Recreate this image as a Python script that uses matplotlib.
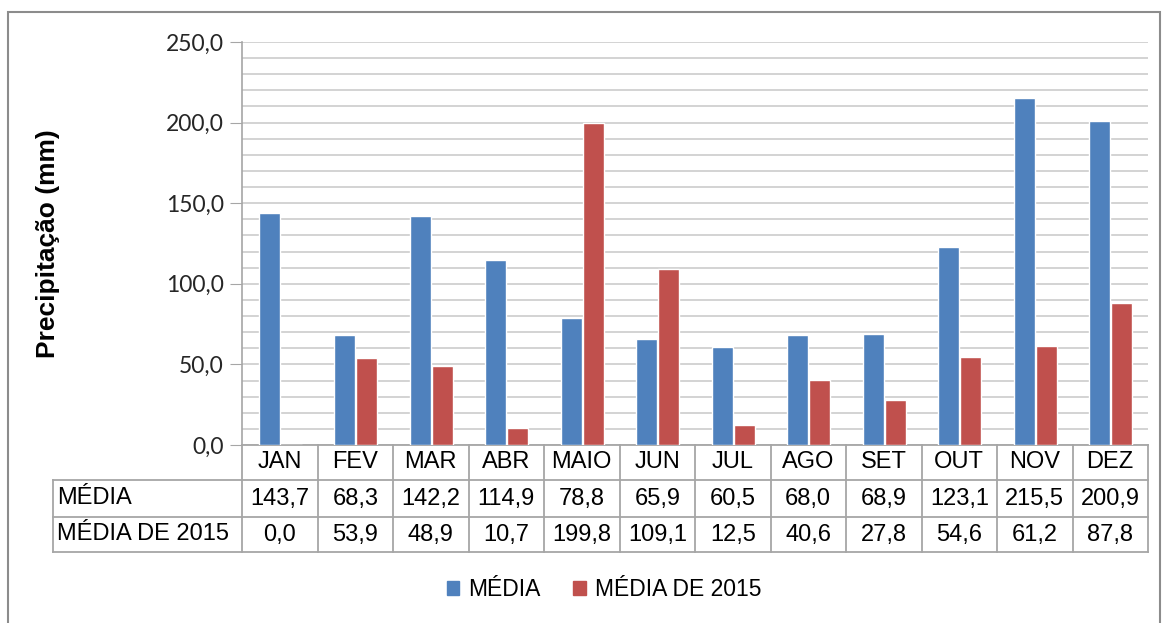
import numpy as np
import matplotlib.pyplot as plt
from matplotlib.patches import Rectangle

# dados
meses = ['JAN', 'FEV', 'MAR', 'ABR', 'MAIO', 'JUN', 'JUL', 'AGO', 'SET', 'OUT', 'NOV', 'DEZ']
media = [143.7, 68.3, 142.2, 114.9, 78.8, 65.9, 60.5, 68.0, 68.9, 123.1, 215.5, 200.9]
media_2015 = [0.0, 53.9, 48.9, 10.7, 199.8, 109.1, 12.5, 40.6, 27.8, 54.6, 61.2, 87.8]
series_nomes = ['MÉDIA', 'MÉDIA DE 2015']

azul = '#4F81BD'
vermelho = '#C0504D'
cinza = '#A6A6A6'

plt.rcParams['font.family'] = ['Liberation Sans', 'DejaVu Sans']

W, H = 1173, 623
fig = plt.figure(figsize=(W / 100, H / 100), dpi=100)

# moldura externa
fig.patches.append(Rectangle((8 / W, -0.05), (1160 - 8) / W, 1.05 - 12 / H,
                             transform=fig.transFigure, fill=False,
                             edgecolor='#8C8C8C', linewidth=1.5))

ax_l, ax_r, ax_t, ax_b = 242, 1148, 42, 445
ax = fig.add_axes([ax_l / W, 1 - ax_b / H, (ax_r - ax_l) / W, (ax_b - ax_t) / H])

x = np.arange(len(meses))
w = 0.28
ax.bar(x - 0.14, media, width=w, color=azul, edgecolor='white', linewidth=1, zorder=3)
ax.bar(x + 0.15, media_2015, width=w, color=vermelho, edgecolor='white', linewidth=1, zorder=3)

ax.set_xlim(-0.5, len(meses) - 0.5)
ax.set_ylim(0, 250)
ax.set_yticks(np.arange(0, 251, 50))
ax.set_yticks(np.arange(0, 251, 10), minor=True)
ax.set_yticklabels([f'{v:.1f}'.replace('.', ',') for v in np.arange(0, 251, 50)],
                   fontsize=16.5, family=['Lato', 'DejaVu Sans'], color='#262626')
ax.tick_params(axis='y', which='major', length=9, color=cinza, pad=4)
ax.tick_params(axis='y', which='minor', length=0)
ax.set_xticks([])
ax.grid(axis='y', which='both', color='#CCCCCC', linewidth=1.2, zorder=0)
for s in ['top', 'right', 'bottom']:
    ax.spines[s].set_visible(False)
ax.spines['left'].set_color(cinza)
ax.spines['left'].set_linewidth(1.2)

ax.set_ylabel('Precipitação (mm)', fontsize=19, fontweight='bold', labelpad=0)
ax.yaxis.set_label_coords(-(ax_l - 60) / (ax_r - ax_l), 0.5)

# tabela de dados
tr = ax.get_xaxis_transform()
h_ax = ax_b - ax_t
linhas_y = [0, -35 / h_ax, -72 / h_ax, -107 / h_ax]
x_esq = -3.0
lk = dict(color=cinza, linewidth=1.3, transform=tr, clip_on=False)
ax.plot([-0.5, len(meses) - 0.5], [0, 0], **lk)
ax.plot([x_esq, len(meses) - 0.5], [linhas_y[1]] * 2, **lk)
for yy in linhas_y[2:]:
    ax.plot([x_esq, len(meses) - 0.5], [yy, yy], **lk)
for xv in np.arange(-0.5, len(meses), 1.0):
    ax.plot([xv, xv], [0, linhas_y[3]], **lk)
ax.plot([x_esq, x_esq], [linhas_y[1], linhas_y[3]], **lk)

fs = 17
for i, m in enumerate(meses):
    ax.text(i, (linhas_y[0] + linhas_y[1]) / 2, m, transform=tr, ha='center',
            va='center', fontsize=fs, clip_on=False)
    ax.text(i, (linhas_y[1] + linhas_y[2]) / 2, f'{media[i]:.1f}'.replace('.', ','),
            transform=tr, ha='center', va='center', fontsize=fs, clip_on=False)
    ax.text(i, (linhas_y[2] + linhas_y[3]) / 2, f'{media_2015[i]:.1f}'.replace('.', ','),
            transform=tr, ha='center', va='center', fontsize=fs, clip_on=False)
for j, nome in enumerate(series_nomes):
    ax.text(x_esq + 0.05, (linhas_y[j + 1] + linhas_y[j + 2]) / 2, nome, transform=tr,
            ha='left', va='center', fontsize=fs, clip_on=False)

# legenda
handles = [Rectangle((0, 0), 1, 1, color=azul), Rectangle((0, 0), 1, 1, color=vermelho)]
fig.legend(handles, series_nomes, loc='center', bbox_to_anchor=(604 / W, 1 - 590 / H),
           ncol=2, frameon=False, fontsize=16.5, handlelength=0.55, handleheight=0.55,
           handletextpad=0.4, columnspacing=1.4)

fig.savefig('out.png', dpi=100)
